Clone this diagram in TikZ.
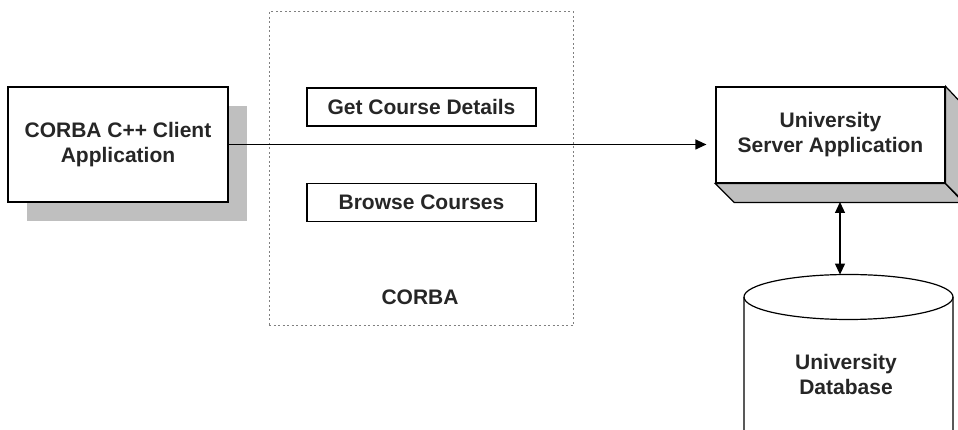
\documentclass[tikz,border=0pt]{standalone}
\usepackage{fontspec}
\setmainfont{Liberation Sans}
\usetikzlibrary{arrows.meta,shadows}

\tikzset{
  boxfont/.style={font=\bfseries\fontsize{21pt}{25pt}\selectfont, text=black!85},
  appbox/.style={draw=black, fill=white, line width=1.2pt, align=center, boxfont},
  opbox/.style={draw=black, fill=white, line width=1.2pt, minimum width=229pt, minimum height=38pt, boxfont},
  link/.style={line width=1.2pt, -{Triangle[length=11pt,width=10pt]}},
}

\begin{document}
\begin{tikzpicture}[x=1pt,y=1pt]
\useasboundingbox (0,0) rectangle (958,430);

% client application
\node[appbox, minimum width=220pt, minimum height=115pt,
  drop shadow={shadow xshift=19pt, shadow yshift=-19.5pt, fill=black!25, opacity=1}]
  (client) at (118,285.5) {CORBA C++ Client\\Application};

% corba layer
\node[draw=gray, dash pattern=on 2pt off 2.5pt, line width=1pt,
  minimum width=304pt, minimum height=314pt] (corba) at (421,261) {};
\node[boxfont] (corbalabel) at (420,133) {CORBA};
\node[opbox] (details) at (421.5,323) {Get Course Details};
\node[opbox] (browse) at (421.5,227.5) {Browse Courses};

% server application
\node[appbox, minimum width=229pt, minimum height=96pt] (server) at (830.5,295) {University\\Server Application};
\filldraw[black!25, draw=black, line width=1.2pt] (server.south west) -- ++(19,-19) -- ++(229,0) -- (server.south east) -- cycle;
\filldraw[black!25, draw=black, line width=1.2pt] (server.south east) -- ++(19,-19) -- ++(0,96) -- (server.north east) -- cycle;
\coordinate (base) at (840,228);

% database
\draw[line width=1.2pt, fill=white] (744,-30) -- (744,133) arc[start angle=180, end angle=0, x radius=104.5, y radius=22.5] -- (953,-30);
\draw[line width=1.2pt] (744,133) arc[start angle=180, end angle=360, x radius=104.5, y radius=22.5];
\coordinate (dbtop) at (840,155.4);
\node[boxfont, align=center] (db) at (846,55.5) {University\\Database};

% connectors
\draw[link, shorten >=9pt] (client.east) -- (client.east -| server.west);
\draw[link, {Triangle[length=11pt,width=10pt]}-{Triangle[length=11pt,width=10pt]}] (base) -- (dbtop);

\end{tikzpicture}
\end{document}
